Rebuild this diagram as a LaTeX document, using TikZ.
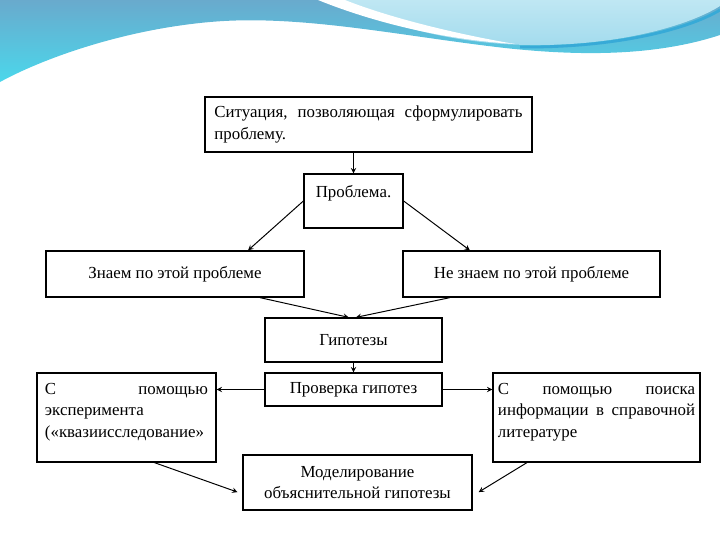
\documentclass[tikz,border=0pt]{standalone}
\usepackage{fontspec}
\setmainfont{Liberation Serif}
\usepackage{tikz}
\usetikzlibrary{arrows}
\definecolor{wavedark}{RGB}{105,170,205}
\definecolor{wavecyan}{RGB}{75,215,235}
\definecolor{wavelight}{RGB}{175,225,240}
\definecolor{waveline}{RGB}{55,170,215}
\begin{document}
\begin{tikzpicture}[x=0.025cm, y=-0.025cm, font=\fontsize{12}{15.5}\selectfont]
% Define styles
\tikzstyle{box} = [rectangle, draw=black, line width=0.9pt, fill=white, inner sep=2pt, align=center]
\tikzstyle{arrow} = [->,>=stealth, line width=0.7pt]
\useasboundingbox (0,0) rectangle (720,540);
% Background wave
\shade[top color=wavedark, bottom color=wavecyan] (0,0) -- (720,0) -- (720,35)
  .. controls (650,58) and (570,55) .. (505,48) .. controls (400,36) and (300,14) .. (210,22)
  .. controls (120,30) and (40,60) .. (0,82) -- cycle;
\shade[top color=wavelight!80!white, bottom color=wavelight!90!waveline] (330,0)
  .. controls (385,24) and (450,44) .. (530,45) .. controls (620,46) and (690,25) .. (720,6) -- (720,0) -- cycle;
\fill[white] (318,0) .. controls (380,25) and (450,40) .. (515,44)
  .. controls (450,33) and (385,16) .. (345,0) -- cycle;
\draw[waveline, line width=2pt] (520,47) .. controls (620,48) and (690,28) .. (720,10);
% Place nodes
\node (sit) [box, minimum width=8.175cm, minimum height=1.375cm, text width=7.7cm, align=justify] at (368.5,124.5)
  {Ситуация,\hfill позволяющая\hfill сформулировать\\ проблему.};
\node (prob) [box, minimum width=2.475cm, minimum height=1.35cm, text depth=0.5cm] at (353.5,201) {Проблема.};
\node (know) [box, minimum width=6.45cm, minimum height=1.15cm] at (175,274) {Знаем по этой проблеме};
\node (notknow) [box, minimum width=6.425cm, minimum height=1.15cm] at (531.5,274) {Не знаем по этой проблеме};
\node (hyp) [box, minimum width=4.425cm, minimum height=1.1cm] at (353.5,340) {Гипотезы};
\node (check) [box, minimum width=4.425cm, minimum height=0.825cm] at (353.5,389.5) {Проверка гипотез};
\node (exp) [box, minimum width=4.475cm, minimum height=2.225cm, text width=4.075cm, align=justify, text depth=1.45cm] at (126.5,417.5)
  {С\hfill помощью\\ эксперимента\\ («квазиисследование»};
\node (lit) [box, minimum width=5.175cm, minimum height=2.225cm, text width=4.925cm, align=justify, text depth=1.45cm] at (596.5,417.5)
  {С\hfill помощью\hfill поиска\\ информации\hfill в\hfill справочной\\ литературе};
\node (model) [box, minimum width=5.725cm, minimum height=1.375cm] at (357.5,482.5)
  {Моделирование\\ объяснительной гипотезы};
% Draw arrows
\draw [arrow] (prob.north |- sit.south) -- (prob.north);
\draw [arrow] (prob.west) -- ([xshift=1.825cm]know.north);
\draw [arrow] (prob.east) -- ([xshift=-1.54cm]notknow.north);
\draw [arrow] ([xshift=2.125cm]know.south) -- ([xshift=-0.12cm]hyp.north);
\draw [arrow] ([xshift=-2.04cm]notknow.south) -- ([xshift=0.06cm]hyp.north);
\draw [arrow] (hyp) -- (check);
\draw [arrow] (check.west) -- (check.west -| exp.east);
\draw [arrow] (check.east) -- (check.east -| lit.west);
\draw [arrow] ([xshift=0.7cm]exp.south) -- ([xshift=-0.12cm,yshift=-0.24cm]model.west);
\draw [arrow] ([xshift=-1.74cm]lit.south) -- ([xshift=0.15cm,yshift=-0.24cm]model.east);
\end{tikzpicture}
\end{document}
